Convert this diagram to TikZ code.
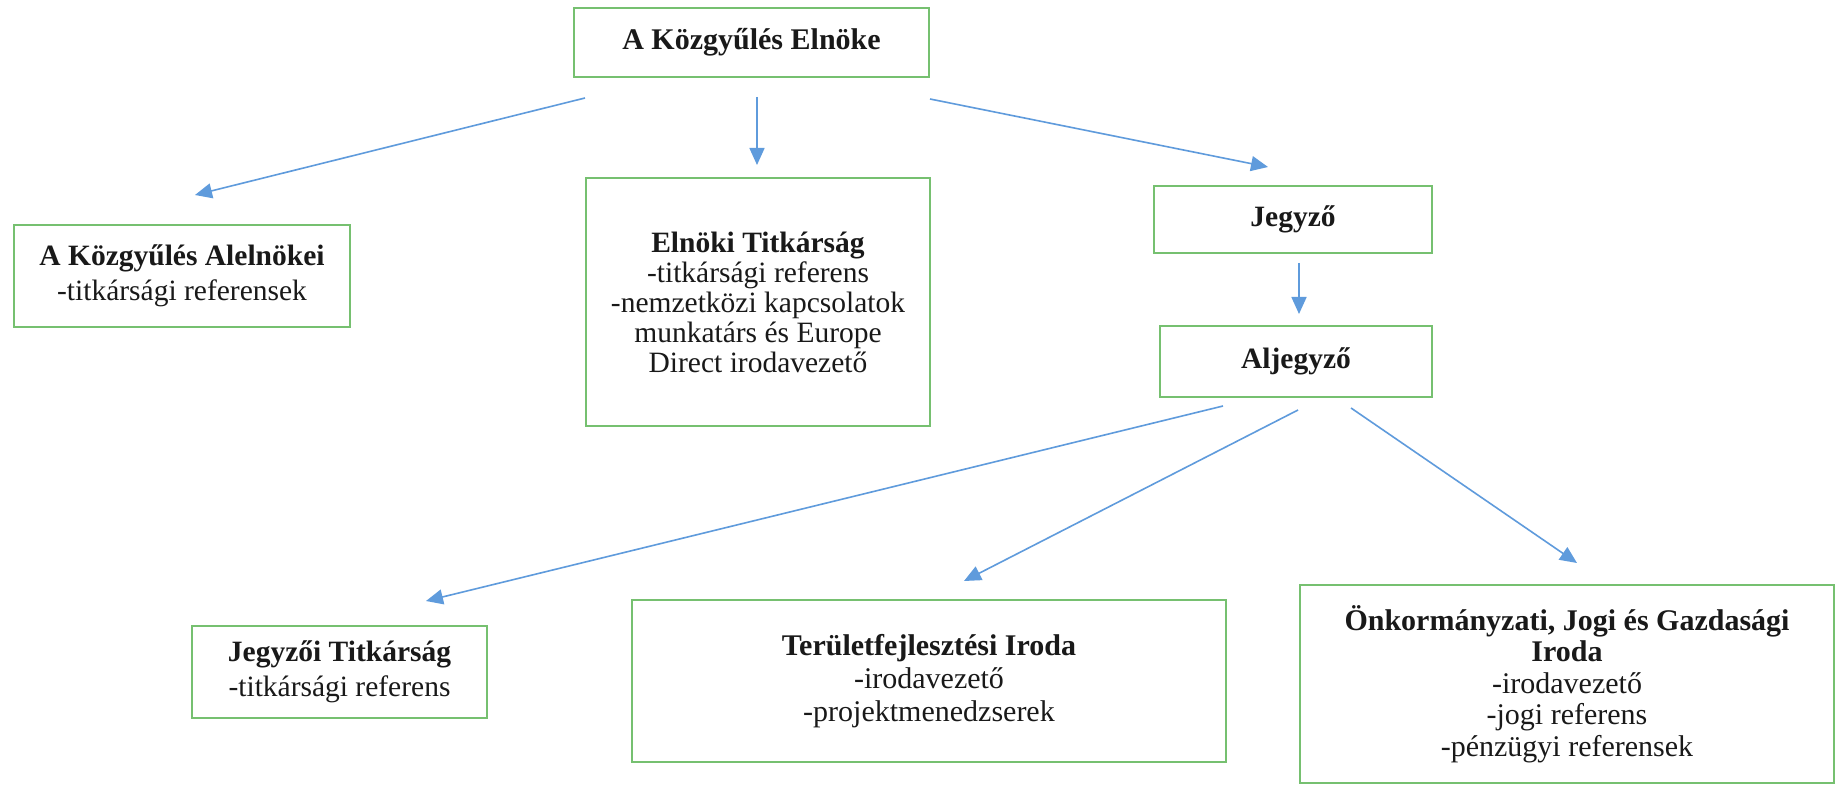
\documentclass[tikz,border=0pt]{standalone}
\usepackage{fontspec}
\setmainfont{Liberation Serif}
\usetikzlibrary{arrows.meta}
\definecolor{boxgreen}{RGB}{118,192,112}
\definecolor{arrowblue}{RGB}{95,155,220}
\definecolor{ink}{RGB}{25,25,25}
\begin{document}
\begin{tikzpicture}[x=1pt,y=-1pt,
  box/.style={draw=boxgreen, line width=2pt, inner sep=0pt, align=center, text=ink, font=\fontsize{29.5}{31}\selectfont},
  conn/.style={draw=arrowblue, line width=1.6pt, -{Triangle[length=17pt,width=15pt]}}]
\useasboundingbox (0,0) rectangle (1844,786);
\fill[white] (0,0) rectangle (1844,786);

% boxes
\node[box, minimum width=355pt, minimum height=69pt, font=\fontsize{30}{32}\selectfont] (elnok) at (751.5,42.5) {\textbf{A Közgyűlés Elnöke}};
\node[box, minimum width=336pt, minimum height=102pt, font=\fontsize{29.5}{35}\selectfont] (alelnok) at (182,276) {\textbf{A Közgyűlés Alelnökei}\\-titkársági referensek};
\node[box, minimum width=344pt, minimum height=247pt, font=\fontsize{29.5}{30}\selectfont] (eltitk) at (758,302) {\textbf{Elnöki Titkárság}\\-titkársági referens\\-nemzetközi kapcsolatok\\munkatárs és Europe\\Direct irodavezető};
\node[box, minimum width=278pt, minimum height=67pt] (jegyzo) at (1293,219.5) {\textbf{Jegyző}};
\node[box, minimum width=272pt, minimum height=71pt] (aljegyzo) at (1296,361.5) {\textbf{Aljegyző}};
\node[box, minimum width=295pt, minimum height=92pt, font=\fontsize{29.5}{35}\selectfont] (jtitk) at (339.5,672) {\textbf{Jegyzői Titkárság}\\-titkársági referens};
\node[box, minimum width=594pt, minimum height=162pt, font=\fontsize{30}{33}\selectfont] (terfejl) at (929,681) {\textbf{Területfejlesztési Iroda}\\-irodavezető\\-projektmenedzserek};
\node[box, minimum width=534pt, minimum height=198pt, font=\fontsize{30}{31.5}\selectfont] (onkorm) at (1567,684) {\textbf{Önkormányzati, Jogi és Gazdasági}\\\textbf{Iroda}\\-irodavezető\\-jogi referens\\-pénzügyi referensek};

% connector end points
\coordinate (e1s) at (585,98);   \coordinate (e1t) at (195,195);
\coordinate (e2s) at (757,97);   \coordinate (e2t) at (757,165);
\coordinate (e3s) at (930,99);   \coordinate (e3t) at (1268,167);
\coordinate (j1s) at (1299,263); \coordinate (j1t) at (1299,314);
\coordinate (a1s) at (1223,406); \coordinate (a1t) at (426,601);
\coordinate (a2s) at (1298,410); \coordinate (a2t) at (964,581);
\coordinate (a3s) at (1351,408); \coordinate (a3t) at (1577,563);

\draw[conn] (e1s) -- (e1t);
\draw[conn] (e2s) -- (e2t);
\draw[conn] (e3s) -- (e3t);
\draw[conn] (j1s) -- (j1t);
\draw[conn] (a1s) -- (a1t);
\draw[conn] (a2s) -- (a2t);
\draw[conn] (a3s) -- (a3t);
\end{tikzpicture}
\end{document}
